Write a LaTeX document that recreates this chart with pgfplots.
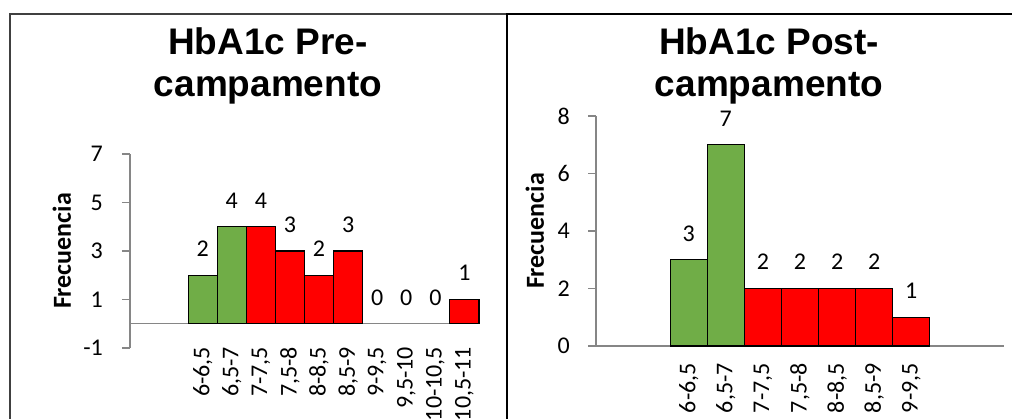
\documentclass[border=0pt]{standalone}
\usepackage{pgfplots}
\pgfplotsset{compat=1.18}
\usepackage{fontspec}
\setmainfont{Carlito}
\newfontfamily\titlefont{Liberation Sans}
\definecolor{barGreen}{HTML}{70AD47}
\definecolor{barRed}{HTML}{FF0000}
\definecolor{axisGray}{HTML}{868686}
\newcommand{\tickfont}{\fontsize{24}{28}\selectfont}
\newcommand{\labfont}{\fontsize{26}{30}\selectfont\bfseries}
\newcommand{\ttlfont}{\titlefont\bfseries\fontsize{37}{42}\selectfont}

\pgfplotsset{
  hist/.style={
    scale only axis,
    axis y line*=left,
    axis x line*=middle,
    axis line style={axisGray, line width=1.2pt},
    xmin=-0.5,
    ymin=-1,
    /pgf/number format/assume math mode=true,
    xtick style={draw=none},
    ytick style={axisGray, line width=1.2pt},
    tick align=outside,
    major tick length=8pt,
    yticklabel style={anchor=east, inner sep=0pt, font=\tickfont},
    ylabel={Frecuencia},
    ylabel style={anchor=center, font=\labfont},
    ybar, bar shift=0pt, bar width=1,
    nodes near coords,
    nodes near coords style={font=\tickfont, anchor=south, inner sep=0pt, yshift=18pt, text=black},
    clip=false,
  },
}

\begin{document}
\begin{tikzpicture}[x=1pt,y=1pt]
\useasboundingbox (0,0) rectangle (1012,419);
\draw[line width=1.6pt, black!75] (10,-5) -- (10,405) -- (507,405);
\draw[line width=2.5pt, black] (507,-5) -- (507,405) -- (1015,405);

\node[font=\ttlfont, anchor=base] at (268,364) {HbA1c Pre-};
\node[font=\ttlfont, anchor=base] at (268,322) {campamento};
\node[font=\ttlfont, anchor=base] at (769,364) {HbA1c Post-};
\node[font=\ttlfont, anchor=base] at (769,322) {campamento};

% Left: Pre-campamento
\begin{axis}[hist,
  at={(130pt,71pt)}, anchor=south west,
  width=349pt, height=194pt,
  xmax=11.5, ymin=-1, ymax=7,
  xtick={2,3,4,5,6,7,8,9,10,11},
  xticklabels={{6-6,5},{6,5-7},{7-7,5},{7,5-8},{8-8,5},{8,5-9},{9-9,5},{9,5-10},{10-10,5},{10,5-11}},
  xticklabel style={yshift=-15pt, rotate=90, anchor=east, inner sep=0pt, font=\tickfont},
  ytick={-1,1,3,5,7},
  yticklabel style={xshift=-19pt},
  ylabel style={at={(axis description cs:-0.195,0.5)}},
]
\addplot[fill=barGreen, draw=black, line width=1.1pt] coordinates {(2,2) (3,4)};
\addplot[fill=barRed, draw=black, line width=1.1pt] coordinates {(4,4) (5,3) (6,2) (7,3) (11,1)};
\addplot[draw=none, fill=none] coordinates {(8,0) (9,0) (10,0)};
\end{axis}

% Right: Post-campamento
\begin{axis}[hist,
  at={(596pt,73pt)}, anchor=south west,
  width=408pt, height=230pt,
  xmax=10.5, ymin=0, ymax=8,
  xtick={2,3,4,5,6,7,8},
  xticklabels={{6-6,5},{6,5-7},{7-7,5},{7,5-8},{8-8,5},{8,5-9},{9-9,5}},
  xticklabel style={yshift=-9pt, rotate=90, anchor=east, inner sep=0pt, font=\tickfont},
  ytick={0,2,4,6,8},
  yticklabel style={xshift=-18pt},
  ylabel style={at={(axis description cs:-0.15,0.5)}},
]
\addplot[fill=barGreen, draw=black, line width=1.1pt] coordinates {(2,3) (3,7)};
\addplot[fill=barRed, draw=black, line width=1.1pt] coordinates {(4,2) (5,2) (6,2) (7,2) (8,1)};
\end{axis}
\end{tikzpicture}
\end{document}
